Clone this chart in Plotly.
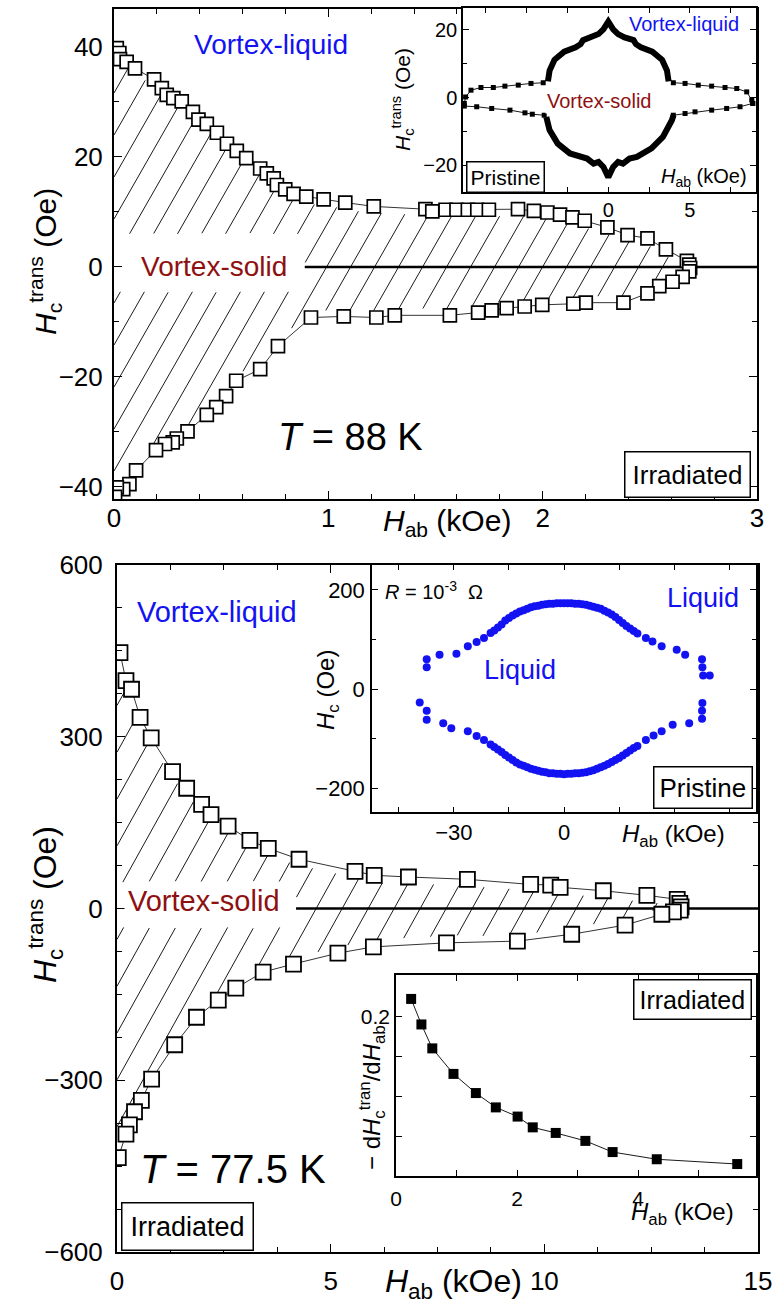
import numpy as np
import plotly.graph_objects as go

W, H = 774, 1307
FONT = "Liberation Sans, Arial, Helvetica, sans-serif"
BLUE = "#1212f2"
DRED = "#8e1010"

# ---------------- data: top panel (T = 88 K, irradiated) ----------------
top_up_x = [0.013, 0.025, 0.028, 0.059, 0.098, 0.187, 0.223, 0.246, 0.277, 0.316, 0.368, 0.394,
            0.433, 0.480, 0.527, 0.573, 0.617, 0.682, 0.713, 0.745, 0.760, 0.799, 0.838, 0.897,
            0.978, 1.079, 1.212, 1.453, 1.485, 1.547, 1.598, 1.651, 1.695, 1.749, 1.885, 1.959,
            2.022, 2.081, 2.139, 2.196, 2.302, 2.396, 2.489, 2.575, 2.673, 2.684]
top_up_y = [39.8, 38.9, 37.8, 37.3, 36.1, 34.1, 32.5, 31.3, 30.7, 30.1, 28.2, 26.8,
            26.0, 24.4, 22.4, 21.1, 19.8, 17.9, 17.0, 16.1, 14.9, 14.1, 13.3, 12.8,
            12.3, 11.7, 11.0, 10.5, 10.1, 10.4, 10.4, 10.4, 10.4, 10.4, 10.5, 10.2,
            9.9, 9.5, 9.0, 8.4, 7.2, 5.8, 5.2, 3.2, 1.1, 0.4]
top_lo_x = [0.005, 0.013, 0.043, 0.072, 0.103, 0.196, 0.238, 0.274, 0.293, 0.343, 0.433, 0.477,
            0.523, 0.570, 0.682, 0.765, 0.919, 1.072, 1.224, 1.310, 1.567, 1.699, 1.762, 1.832,
            1.916, 1.998, 2.143, 2.201, 2.377, 2.489, 2.544, 2.606, 2.653, 2.684, 2.688]
top_lo_y = [-41.8, -40.1, -40.4, -39.5, -37.0, -33.3, -32.2, -31.9, -31.2, -29.9, -26.9, -25.5,
            -23.5, -20.7, -18.6, -14.4, -9.2, -9.0, -9.2, -8.8, -8.8, -8.3, -7.9, -7.5,
            -7.2, -6.9, -6.7, -6.5, -6.5, -4.8, -3.5, -2.7, -1.8, -0.8, -0.2]

# ---------------- data: top inset (pristine) ----------------
pi_thick_up_x = [-3.7, -3.6, -3.3, -2.7, -2.0, -1.7, -1.55, -1.0, -0.6, -0.3, 0.0,
                 0.3, 0.6, 1.0, 1.55, 1.7, 2.0, 2.7, 3.3, 3.6, 3.7]
pi_thick_up_y = [4.8, 8.0, 11.2, 13.6, 14.9, 15.8, 17.0, 17.8, 18.8, 20.2, 22.5,
                 20.2, 18.8, 17.8, 17.0, 15.8, 14.9, 13.6, 11.2, 8.0, 4.8]
pi_thick_lo_x = [-3.8, -3.6, -3.1, -2.35, -1.3, -0.9, -0.6, -0.3, 0.0,
                 0.3, 0.6, 0.9, 1.3, 1.75, 2.65, 3.35, 3.9, 4.0]
pi_thick_lo_y = [-5.7, -9.6, -13.6, -16.5, -18.0, -19.5, -19.0, -20.5, -23.5,
                 -20.5, -19.0, -19.5, -18.0, -17.5, -15.0, -11.6, -6.7, -5.2]
pi_sp_ul_x = [-8.83, -8.75, -8.42, -7.81, -7.05, -6.34, -5.52, -4.74, -3.99]
pi_sp_ul_y = [-1.7, 0.2, 2.2, 3.0, 3.0, 3.4, 3.7, 4.2, 4.4]
pi_sp_ur_x = [3.99, 4.71, 5.52, 6.34, 7.16, 7.88, 8.49, 8.80, 8.86]
pi_sp_ur_y = [4.4, 4.2, 3.7, 3.4, 3.0, 2.7, 1.7, -0.7, -1.7]
pi_sp_ll_x = [-8.83, -8.07, -7.15, -6.03, -5.11, -4.66, -3.93]
pi_sp_ll_y = [-2.5, -2.7, -3.2, -3.7, -4.5, -4.9, -5.2]
pi_sp_lr_x = [3.99, 4.71, 5.32, 6.34, 7.26, 8.08, 8.86]
pi_sp_lr_y = [-5.2, -4.7, -4.2, -3.7, -3.2, -2.7, -1.7]

# ---------------- data: bottom panel (T = 77.5 K, irradiated) ----------------
bot_up_x = [0.07, 0.21, 0.34, 0.54, 0.80, 1.30, 1.63, 1.98, 2.20, 2.60, 3.11, 3.54, 4.26,
            5.57, 6.02, 6.82, 8.20, 9.68, 10.15, 10.37, 11.38, 12.40, 13.11, 13.17, 13.20]
bot_up_y = [447, 398, 383, 334, 298, 239, 210, 182, 164, 144, 119, 105, 86,
            65, 58, 55, 51, 42, 41, 37, 31, 23, 16, 9, 3]
bot_lo_x = [0.03, 0.21, 0.29, 0.41, 0.57, 0.81, 1.35, 1.86, 2.37, 2.78, 3.42, 4.13,
            5.17, 6.00, 7.71, 9.37, 10.64, 11.89, 12.75, 13.02, 13.18]
bot_lo_y = [-435, -394, -378, -355, -335, -298, -238, -190, -160, -139, -111, -97,
            -78, -67, -60, -57, -45, -29, -10, -6, -3]

# ---------------- data: bottom inset 1 (pristine, R = 1e-3 Ohm) ----------------
pr_up_x = [-37.4, -37.4, -33.9, -29.3, -26.2, -23.8, -21.8, -20, -19, -18, -17, -16, -15, -14,
           -13, -12, -11, -10, -9, -8, -7, -6, -5, -4, -3, -2, -1, 0, 1, 2, 3, 4, 5, 6, 7, 8,
           9, 10, 11, 12, 13, 14, 15, 16, 17, 18, 19, 20, 22.3, 24.1, 26.6, 30.7, 33.0, 37.6,
           37.7, 37.9, 39.7]
pr_up_y = [44, 60, 69, 71, 86, 95, 103, 113, 118, 124, 130, 138, 143, 148,
           152, 156, 159, 162, 165, 167, 168, 170, 171, 172, 172, 173, 173, 173, 173, 173, 172,
           172, 171, 170, 168, 166, 164, 162, 158, 154, 150, 145, 139, 133, 127, 122, 117, 112,
           103, 96, 86, 79, 69, 60, 44, 27, 27]
pr_lo_x = [-39.3, -37.4, -37.4, -32.9, -30.7, -26.2, -23.8, -21.8, -20, -19, -18, -17, -16, -15,
           -14, -13, -12, -11, -10, -9, -8, -7, -6, -5, -4, -3, -2, -1, 0, 1, 2, 3, 4, 5, 6, 7,
           8, 9, 10, 11, 12, 13, 14, 15, 16, 17, 18, 19, 20, 22.3, 24.4, 26.6, 29.6, 34.1, 37.6,
           37.6, 37.7]
pr_lo_y = [-27, -44, -62, -69, -79, -85, -95, -103, -112, -117, -122, -127, -133, -138,
           -143, -148, -152, -155, -158, -161, -163, -165, -167, -168, -170, -170, -171, -171,
           -172, -171, -171, -170, -170, -169, -168, -166, -164, -161, -158, -155, -151, -147,
           -143, -139, -134, -129, -124, -119, -115, -103, -94, -85, -72, -69, -60, -44, -28]

# ---------------- data: bottom inset 2 (slope, irradiated) ----------------
der_x = [0.25, 0.42, 0.60, 0.95, 1.32, 1.65, 2.01, 2.26, 2.64, 3.13, 3.58, 4.31, 5.64]
der_y = [0.222, 0.190, 0.160, 0.128, 0.104, 0.086, 0.0745, 0.061, 0.054, 0.044, 0.030, 0.021, 0.015]

# ---------------- layout geometry (pixels) ----------------
def xd(a, b):
    return [a / W, b / W]

def yd(top, bottom):
    return [1 - bottom / H, 1 - top / H]

AX = {
    "top":  dict(x=xd(114, 757), y=yd(9, 499), xr=[0, 3], yr=[-42.2, 46.9]),
    "tin":  dict(x=xd(463, 756), y=yd(8, 192), xr=[-8.91, 9.06], yr=[-27.9, 26.5]),
    "bot":  dict(x=xd(117, 758), y=yd(565, 1252), xr=[0, 15], yr=[-600, 600]),
    "in1":  dict(x=xd(372, 756), y=yd(565, 812), xr=[-52.3, 52.3], yr=[-248, 250]),
    "in2":  dict(x=xd(396, 756), y=yd(975, 1176), xr=[0, 5.95], yr=[0, 0.252]),
}


def hatch(ux, uy, lx, ly, key, spacing_px, slope_px, gap_x, gap_lo, gap_hi, margin_px=6):
    g = AX[key]
    kx = (g["x"][1] - g["x"][0]) * W / (g["xr"][1] - g["xr"][0])
    ky = (g["y"][1] - g["y"][0]) * H / (g["yr"][1] - g["yr"][0])
    m = slope_px * kx / ky
    dx = spacing_px / kx
    mu = margin_px / ky
    xmin, xmax = g["xr"]
    ymin, ymax = g["yr"]
    xend = min(max(ux), max(lx))
    xs_all, ys_all = [], []
    c = xmin - ymax / m
    while c < xmax - ymin / m:
        a = max(xmin, c + ymin / m)
        b = min(xend, c + ymax / m)
        if b > a:
            x = np.linspace(a, b, 500)
            y = m * (x - c)
            U = np.interp(x, ux, uy)
            L = np.interp(x, lx, ly)
            ins = (y <= U - mu) & (y >= L + mu)
            ins &= ~((x < gap_x) & (y > gap_lo) & (y < gap_hi))
            idx = np.flatnonzero(ins)
            if idx.size:
                breaks = np.flatnonzero(np.diff(idx) > 1)
                starts = np.r_[0, breaks + 1]
                ends = np.r_[breaks, idx.size - 1]
                for s, e in zip(starts, ends):
                    if e > s:
                        xs_all += [x[idx[s]], x[idx[e]], None]
                        ys_all += [y[idx[s]], y[idx[e]], None]
        c += dx
    return xs_all, ys_all


fig = go.Figure()

# --- hatching ---
hx, hy = hatch(top_up_x, top_up_y, top_lo_x, top_lo_y, "top", 24, 1.75, 0.89, -4.5, 6.0)
fig.add_trace(go.Scatter(x=hx, y=hy, mode="lines", line=dict(color="black", width=0.9),
                         xaxis="x", yaxis="y", hoverinfo="skip"))
hx, hy = hatch(bot_up_x, bot_up_y, bot_lo_x, bot_lo_y, "bot", 26, 1.8, 4.19, -33, 46)
fig.add_trace(go.Scatter(x=hx, y=hy, mode="lines", line=dict(color="black", width=0.9),
                         xaxis="x3", yaxis="y3", hoverinfo="skip"))

# --- main data (open squares, thin connecting line) ---
fig.add_trace(go.Scatter(x=top_up_x + top_lo_x[::-1], y=top_up_y + top_lo_y[::-1],
                         mode="lines+markers", line=dict(color="black", width=0.8),
                         marker=dict(symbol="square", size=13, color="white",
                                     line=dict(color="black", width=1.7)),
                         xaxis="x", yaxis="y"))
fig.add_trace(go.Scatter(x=bot_up_x + bot_lo_x[::-1], y=bot_up_y + bot_lo_y[::-1],
                         mode="lines+markers", line=dict(color="black", width=0.8),
                         marker=dict(symbol="square", size=15, color="white",
                                     line=dict(color="black", width=1.8)),
                         xaxis="x3", yaxis="y3"))

# --- top inset ---
for sx, sy in [(pi_sp_ul_x, pi_sp_ul_y), (pi_sp_ur_x, pi_sp_ur_y),
               (pi_sp_ll_x, pi_sp_ll_y), (pi_sp_lr_x, pi_sp_lr_y)]:
    fig.add_trace(go.Scatter(x=sx, y=sy, mode="lines+markers",
                             line=dict(color="black", width=0.9),
                             marker=dict(symbol="square", size=5, color="black"),
                             xaxis="x2", yaxis="y2"))
for tx, ty in [(pi_thick_up_x, pi_thick_up_y), (pi_thick_lo_x, pi_thick_lo_y)]:
    fig.add_trace(go.Scatter(x=tx, y=ty, mode="lines",
                             line=dict(color="black", width=6),
                             xaxis="x2", yaxis="y2"))

# --- bottom inset 1 ---
for px_, py_ in [(pr_up_x, pr_up_y), (pr_lo_x, pr_lo_y)]:
    fig.add_trace(go.Scatter(x=px_, y=py_, mode="markers",
                             marker=dict(symbol="circle", size=8, color=BLUE),
                             xaxis="x4", yaxis="y4"))

# --- bottom inset 2 ---
fig.add_trace(go.Scatter(x=der_x, y=der_y, mode="lines+markers",
                         line=dict(color="black", width=0.9),
                         marker=dict(symbol="square", size=10, color="black"),
                         xaxis="x5", yaxis="y5"))


def axis(key, which, size, lw, tickvals=None, ticktext=None, dtick=None, minor=None,
         ticklen=8, standoff=None, anchor=None):
    g = AX[key]
    d = dict(domain=g[which], range=g[which + "r"], showline=True, linecolor="black",
             linewidth=lw, mirror="ticks", ticks="inside", ticklen=ticklen, tickwidth=1.3,
             tickcolor="black", showgrid=False, zeroline=False, anchor=anchor,
             tickfont=dict(family=FONT, size=size, color="black"))
    if tickvals is not None:
        d.update(tickmode="array", tickvals=tickvals, ticktext=ticktext)
    if dtick is not None:
        d.update(tickmode="linear", tick0=0, dtick=dtick)
    if minor is not None:
        d["minor"] = dict(ticks="inside", ticklen=5, tickwidth=1.1, tickcolor="black",
                          dtick=minor, tick0=0, showgrid=False)
    if standoff is not None:
        d["ticklabelstandoff"] = standoff
    return d


layout = dict(
    width=W, height=H, margin=dict(l=0, r=0, t=0, b=0),
    paper_bgcolor="white", plot_bgcolor="white", showlegend=False,
    template="none",
    xaxis=axis("top", "x", 26, 2, dtick=1, minor=0.2, standoff=-5, anchor="y"),
    yaxis=axis("top", "y", 26, 2, dtick=20, minor=10, standoff=4, anchor="x"),
    xaxis2=axis("tin", "x", 20, 1.5, tickvals=[-7.5, -5, -2.5, 0, 2.5, 5, 7.5],
                ticktext=["", "", "", "0", "", "5", ""], ticklen=5, standoff=-1, anchor="y2"),
    yaxis2=axis("tin", "y", 20, 1.5, tickvals=[-20, 0, 20], ticktext=["−20", "0", "20"],
                minor=None, ticklen=6, standoff=0, anchor="x2"),
    xaxis3=axis("bot", "x", 26, 2, dtick=5, minor=1.25, standoff=5, anchor="y3"),
    yaxis3=axis("bot", "y", 26, 2, dtick=300, minor=75, standoff=7, anchor="x3"),
    xaxis4=axis("in1", "x", 22, 1.5, tickvals=[-45, -30, -15, 0, 15, 30, 45],
                ticktext=["", "−30", "", "0", "", "", ""], ticklen=5, standoff=0, anchor="y4"),
    yaxis4=axis("in1", "y", 22, 1.5, tickvals=[-200, 0, 200], ticktext=["−200", "0", "200"],
                ticklen=6, standoff=1, anchor="x4"),
    xaxis5=axis("in2", "x", 21, 1.5, tickvals=[0, 1, 2, 3, 4, 5],
                ticktext=["0", "", "2", "", "4", ""], ticklen=6, standoff=3, anchor="y5"),
    yaxis5=axis("in2", "y", 21, 1.5, tickvals=[0.05, 0.1, 0.15, 0.2],
                ticktext=["", "", "", "0.2"], ticklen=6, standoff=0, anchor="x5"),
)
layout["yaxis2"]["minor"] = dict(ticks="inside", ticklen=4, tickwidth=1.1, tickcolor="black",
                                 dtick=10, tick0=0, showgrid=False)
layout["yaxis4"]["minor"] = dict(ticks="inside", ticklen=4, tickwidth=1.1, tickcolor="black",
                                 dtick=100, tick0=0, showgrid=False)
fig.update_layout(**layout)

# --- reference lines ---
shapes = [
    dict(type="line", xref="x", yref="y", x0=0.89, x1=3, y0=0, y1=0,
         line=dict(color="black", width=2.5), layer="below"),
    dict(type="line", xref="x3", yref="y3", x0=4.19, x1=15, y0=0, y1=0,
         line=dict(color="black", width=2.5), layer="below"),
    dict(type="line", xref="x2", yref="y2 domain", x0=0, x1=0, y0=0, y1=1,
         line=dict(color="black", width=1.2), layer="below"),
    dict(type="line", xref="x4", yref="y4 domain", x0=0, x1=0, y0=0, y1=1,
         line=dict(color="black", width=1.2), layer="below"),
    dict(type="line", xref="x4 domain", yref="y4", x0=0, x1=1, y0=0, y1=0,
         line=dict(color="black", width=1.2), layer="below"),
]
fig.update_layout(shapes=shapes)


def ann(text, px, py, size, color="black", angle=0, xanchor="center", box=False, bg=None,
        pad=2):
    d = dict(text=text, x=px / W, y=1 - py / H, xref="paper", yref="paper", showarrow=False,
             font=dict(family=FONT, size=size, color=color), xanchor=xanchor, yanchor="middle",
             textangle=angle, borderpad=pad)
    if box:
        d.update(bordercolor="black", borderwidth=1.5, bgcolor="white")
    if bg:
        d.update(bgcolor=bg)
    return d


HC = "<i>H</i><sub>c</sub><sup>trans</sup> (Oe)"
HAB = "<i>H</i><sub>ab</sub> (kOe)"
anns = [
    # top main
    ann("Vortex-liquid", 271, 45, 28, BLUE),
    ann("Vortex-solid", 214, 266, 28, DRED, bg="white", pad=3),
    ann("<i>T</i> = 88 K", 350, 437, 38),
    ann("Irradiated", 687, 475, 26, box=True, pad=7),
    ann(HC, 45, 262, 30, angle=-90),
    ann(HAB, 447, 522, 30),
    # top inset
    ann("Vortex-liquid", 684, 24, 20, BLUE),
    ann("Vortex-solid", 599, 101, 20, DRED, bg="white", pad=1),
    ann("Pristine", 505, 177, 21, box=True, pad=3),
    ann(HAB, 750, 178, 20, xanchor="right"),
    ann(HC, 402, 100, 21, angle=-90),
    # bottom main
    ann("Vortex-liquid", 217, 612, 29, BLUE),
    ann("Vortex-solid", 204, 901, 29, DRED, bg="white", pad=3),
    ann("<i>T</i> = 77.5 K", 233, 1169, 40),
    ann("Irradiated", 187, 1226, 27, box=True, pad=8),
    ann(HC, 45, 905, 32, angle=-90),
    ann(HAB, 453, 1283, 32),
    # bottom inset 1
    ann("<i>R</i> = 10<sup>-3</sup>  Ω", 382, 591, 20, xanchor="left"),
    ann("Liquid", 703, 598, 27, BLUE),
    ann("Liquid", 520, 670, 27, BLUE),
    ann("Pristine", 703, 787, 26, box=True, pad=5),
    ann("<i>H</i><sub>c</sub> (Oe)", 327, 690, 24, angle=-90),
    ann(HAB, 673, 835, 24),
    # bottom inset 2
    ann("Irradiated", 692, 999, 25, box=True, pad=5),
    ann(HAB, 682, 1213, 24),
    ann("− d<i>H</i><sub>c</sub><sup>tran</sup>/d<i>H</i><sub>ab</sub>", 372, 1098, 24, angle=-90),
]
fig.update_layout(annotations=anns)

fig.write_html("out.html", config={"displayModeBar": False},
               post_script="document.body.style.margin='0';")
